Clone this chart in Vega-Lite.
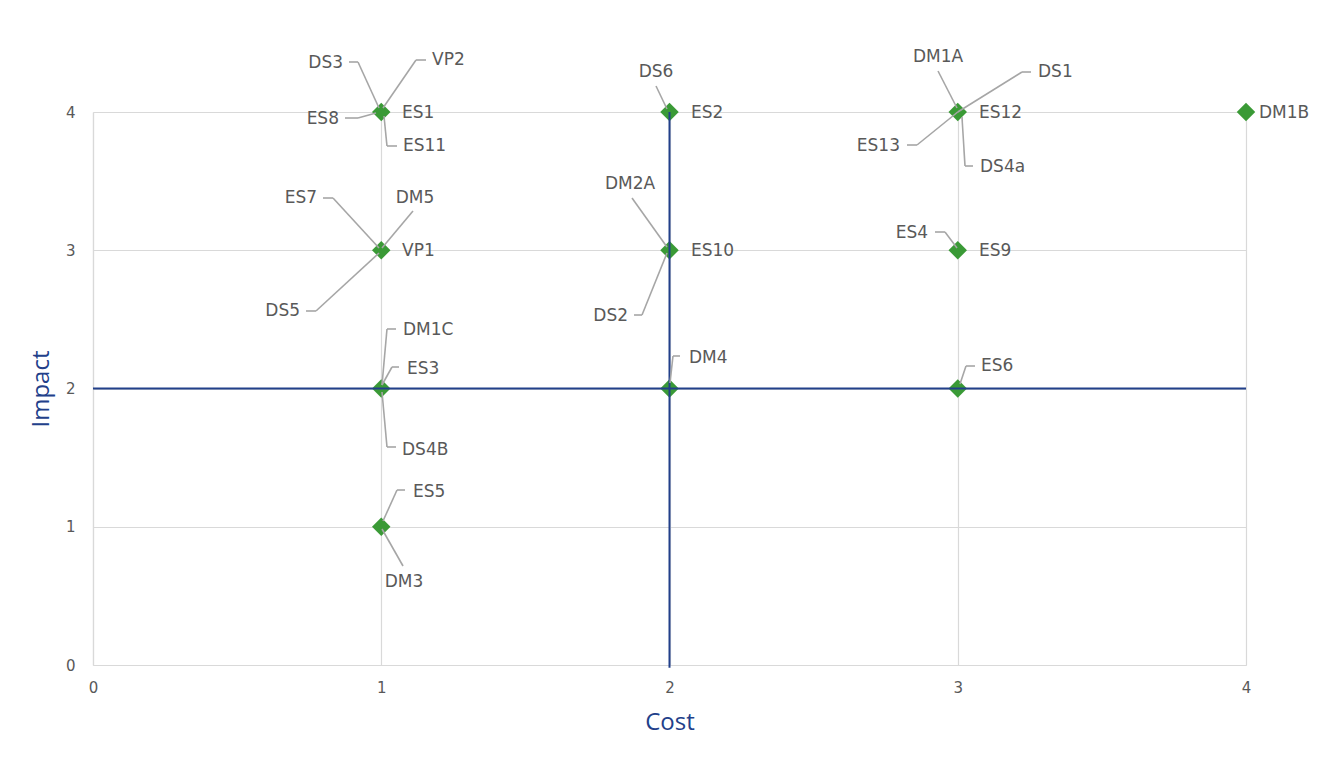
{
  "$schema": "https://vega.github.io/schema/vega-lite/v6.json",
  "width": 1153,
  "height": 553,
  "autosize": {"type": "none"},
  "padding": {"left": 93, "top": 112, "right": 75, "bottom": 104},
  "background": "white",
  "config": {
    "view": {"stroke": null},
    "axis": {
      "grid": true,
      "gridColor": "#D9D9D9",
      "gridWidth": 1.2,
      "domainColor": "#D9D9D9",
      "domainWidth": 1.2,
      "ticks": false,
      "labelFlush": false,
      "labelFont": "DejaVu Sans",
      "labelFontSize": 15,
      "labelColor": "#595959",
      "titleFont": "Open Sans",
      "titleFontSize": 24,
      "titleFontWeight": "normal",
      "titleColor": "#22408A"
    }
  },
  "datasets": {
    "points": [
      {"cost": 1, "impact": 4}, {"cost": 2, "impact": 4}, {"cost": 3, "impact": 4}, {"cost": 4, "impact": 4},
      {"cost": 1, "impact": 3}, {"cost": 2, "impact": 3}, {"cost": 3, "impact": 3},
      {"cost": 1, "impact": 2}, {"cost": 2, "impact": 2}, {"cost": 3, "impact": 2},
      {"cost": 1, "impact": 1}
    ],
    "quadrants": [
      {"x1": 0, "x2": 4, "y1": 2, "y2": 2},
      {"x1": 2, "x2": 2, "y1": -0.02, "y2": 4}
    ],
    "labels": [
      {"label": "DS3", "lx": 0.8673, "ly": 4.3544, "side": "right"},
      {"label": "VP2", "lx": 1.1761, "ly": 4.3761, "side": "left"},
      {"label": "ES8", "lx": 0.8534, "ly": 3.9494, "side": "right"},
      {"label": "ES1", "lx": 1.0720, "ly": 3.9928, "side": "left"},
      {"label": "ES11", "lx": 1.0755, "ly": 3.7541, "side": "left"},
      {"label": "DS6", "lx": 1.9532, "ly": 4.2893, "side": "center"},
      {"label": "ES2", "lx": 2.0746, "ly": 3.9928, "side": "left"},
      {"label": "DM1A", "lx": 2.9315, "ly": 4.3978, "side": "center"},
      {"label": "DS1", "lx": 3.2784, "ly": 4.2893, "side": "left"},
      {"label": "ES13", "lx": 2.7997, "ly": 3.7541, "side": "right"},
      {"label": "ES12", "lx": 3.0738, "ly": 3.9928, "side": "left"},
      {"label": "DS4a", "lx": 3.0772, "ly": 3.6022, "side": "left"},
      {"label": "DM1B", "lx": 4.0451, "ly": 3.9928, "side": "left"},
      {"label": "ES7", "lx": 0.7771, "ly": 3.3779, "side": "right"},
      {"label": "DM5", "lx": 1.1171, "ly": 3.3779, "side": "center"},
      {"label": "DS5", "lx": 0.7181, "ly": 2.5606, "side": "right"},
      {"label": "VP1", "lx": 1.0720, "ly": 2.9946, "side": "left"},
      {"label": "DM2A", "lx": 1.8630, "ly": 3.4792, "side": "center"},
      {"label": "DS2", "lx": 1.8560, "ly": 2.5244, "side": "right"},
      {"label": "ES10", "lx": 2.0746, "ly": 2.9946, "side": "left"},
      {"label": "ES4", "lx": 2.8968, "ly": 3.1248, "side": "right"},
      {"label": "ES9", "lx": 3.0738, "ly": 2.9946, "side": "left"},
      {"label": "DM1C", "lx": 1.0755, "ly": 2.4231, "side": "left"},
      {"label": "ES3", "lx": 1.0893, "ly": 2.1410, "side": "left"},
      {"label": "DS4B", "lx": 1.0720, "ly": 1.5552, "side": "left"},
      {"label": "DM4", "lx": 2.0677, "ly": 2.2206, "side": "left"},
      {"label": "ES6", "lx": 3.0807, "ly": 2.1627, "side": "left"},
      {"label": "ES5", "lx": 1.1101, "ly": 1.2514, "side": "left"},
      {"label": "DM3", "lx": 1.0789, "ly": 0.6004, "side": "center"}
    ],
    "leaders": [
      {"label": "DS3", "x1": 0.8881, "y1": 4.3617, "x2": 0.9193, "y2": 4.3617},
      {"label": "DS3", "x1": 0.9193, "y1": 4.3617, "x2": 0.9922, "y2": 4.0289},
      {"label": "VP2", "x1": 1.1553, "y1": 4.3761, "x2": 1.1206, "y2": 4.3761},
      {"label": "VP2", "x1": 1.1206, "y1": 4.3761, "x2": 1.0061, "y2": 4.0289},
      {"label": "ES8", "x1": 0.8742, "y1": 3.9566, "x2": 0.9193, "y2": 3.9566},
      {"label": "ES8", "x1": 0.9193, "y1": 3.9566, "x2": 0.9818, "y2": 3.9928},
      {"label": "ES11", "x1": 1.0547, "y1": 3.7541, "x2": 1.0199, "y2": 3.7541},
      {"label": "ES11", "x1": 1.0199, "y1": 3.7541, "x2": 1.0095, "y2": 3.9711},
      {"label": "DS6", "x1": 1.9532, "y1": 4.1881, "x2": 1.9913, "y2": 4.0217},
      {"label": "DM1A", "x1": 2.9315, "y1": 4.2966, "x2": 2.9974, "y2": 4.0289},
      {"label": "DS1", "x1": 3.2541, "y1": 4.2893, "x2": 3.2229, "y2": 4.2893},
      {"label": "DS1", "x1": 3.2229, "y1": 4.2893, "x2": 3.0, "y2": 4.0},
      {"label": "ES13", "x1": 2.8239, "y1": 3.7613, "x2": 2.8586, "y2": 3.7613},
      {"label": "ES13", "x1": 2.8586, "y1": 3.7613, "x2": 3.0, "y2": 4.0},
      {"label": "DS4a", "x1": 3.0529, "y1": 3.6094, "x2": 3.0252, "y2": 3.6094},
      {"label": "DS4a", "x1": 3.0252, "y1": 3.6094, "x2": 3.0147, "y2": 3.9638},
      {"label": "ES7", "x1": 0.7979, "y1": 3.3779, "x2": 0.8326, "y2": 3.3779},
      {"label": "ES7", "x1": 0.8326, "y1": 3.3779, "x2": 0.9922, "y2": 3.0163},
      {"label": "DM5", "x1": 1.1101, "y1": 3.2839, "x2": 1.0026, "y2": 3.0163},
      {"label": "DS5", "x1": 0.7390, "y1": 2.5606, "x2": 0.7736, "y2": 2.5606},
      {"label": "DS5", "x1": 0.7736, "y1": 2.5606, "x2": 0.9922, "y2": 2.9801},
      {"label": "DM2A", "x1": 1.8699, "y1": 3.3779, "x2": 1.9913, "y2": 3.0235},
      {"label": "DS2", "x1": 1.8769, "y1": 2.5316, "x2": 1.9046, "y2": 2.5316},
      {"label": "DS2", "x1": 1.9046, "y1": 2.5316, "x2": 1.9913, "y2": 2.9801},
      {"label": "ES4", "x1": 2.9211, "y1": 3.1320, "x2": 2.9558, "y2": 3.1320},
      {"label": "ES4", "x1": 2.9558, "y1": 3.1320, "x2": 2.9974, "y2": 3.0163},
      {"label": "DM1C", "x1": 1.0512, "y1": 2.4304, "x2": 1.0199, "y2": 2.4304},
      {"label": "DM1C", "x1": 1.0199, "y1": 2.4304, "x2": 1.0026, "y2": 2.0253},
      {"label": "ES3", "x1": 1.0616, "y1": 2.1555, "x2": 1.0373, "y2": 2.1555},
      {"label": "ES3", "x1": 1.0373, "y1": 2.1555, "x2": 1.0026, "y2": 2.0253},
      {"label": "DS4B", "x1": 1.0512, "y1": 1.5769, "x2": 1.0199, "y2": 1.5769},
      {"label": "DS4B", "x1": 1.0199, "y1": 1.5769, "x2": 1.0026, "y2": 1.9747},
      {"label": "DM4", "x1": 2.0364, "y1": 2.2351, "x2": 2.0121, "y2": 2.2351},
      {"label": "DM4", "x1": 2.0121, "y1": 2.2351, "x2": 2.0017, "y2": 2.0398},
      {"label": "ES6", "x1": 3.0598, "y1": 2.1627, "x2": 3.0286, "y2": 2.1627},
      {"label": "ES6", "x1": 3.0286, "y1": 2.1627, "x2": 3.0078, "y2": 2.0325},
      {"label": "ES5", "x1": 1.0824, "y1": 1.2658, "x2": 1.0547, "y2": 1.2658},
      {"label": "ES5", "x1": 1.0547, "y1": 1.2658, "x2": 1.0061, "y2": 1.0416},
      {"label": "DM3", "x1": 1.0755, "y1": 0.7161, "x2": 1.0026, "y2": 0.9837}
    ]
  },
  "layer": [
    {
      "data": {"name": "points"},
      "mark": {"type": "point", "shape": "diamond", "filled": true, "size": 340, "color": "#3A9A36", "opacity": 1},
      "encoding": {
        "x": {"field": "cost", "type": "quantitative", "scale": {"domain": [0, 4], "nice": false},
              "axis": {"values": [0, 1, 2, 3, 4], "title": "Cost", "labelPadding": 15, "titlePadding": 15, "format": "d"}},
        "y": {"field": "impact", "type": "quantitative", "scale": {"domain": [0, 4], "nice": false},
              "axis": {"values": [0, 1, 2, 3, 4], "title": "Impact", "labelPadding": 18, "titlePadding": 12, "format": "d"}}
      }
    },
    {
      "data": {"name": "quadrants"},
      "mark": {"type": "rule", "color": "#22408A", "strokeWidth": 2, "clip": false},
      "encoding": {
        "x": {"field": "x1", "type": "quantitative"},
        "x2": {"field": "x2"},
        "y": {"field": "y1", "type": "quantitative"},
        "y2": {"field": "y2"}
      }
    },
    {
      "data": {"name": "leaders"},
      "mark": {"type": "rule", "color": "#A6A6A6", "strokeWidth": 1.6},
      "encoding": {
        "x": {"field": "x1", "type": "quantitative"},
        "x2": {"field": "x2"},
        "y": {"field": "y1", "type": "quantitative"},
        "y2": {"field": "y2"}
      }
    },
    {
      "data": {"name": "labels"},
      "transform": [{"filter": "datum.side === 'left'"}],
      "mark": {"type": "text", "align": "left", "baseline": "middle", "font": "DejaVu Sans", "fontSize": 17, "color": "#595959"},
      "encoding": {
        "x": {"field": "lx", "type": "quantitative"},
        "y": {"field": "ly", "type": "quantitative"},
        "text": {"field": "label"}
      }
    },
    {
      "data": {"name": "labels"},
      "transform": [{"filter": "datum.side === 'right'"}],
      "mark": {"type": "text", "align": "right", "baseline": "middle", "font": "DejaVu Sans", "fontSize": 17, "color": "#595959"},
      "encoding": {
        "x": {"field": "lx", "type": "quantitative"},
        "y": {"field": "ly", "type": "quantitative"},
        "text": {"field": "label"}
      }
    },
    {
      "data": {"name": "labels"},
      "transform": [{"filter": "datum.side === 'center'"}],
      "mark": {"type": "text", "align": "center", "baseline": "middle", "font": "DejaVu Sans", "fontSize": 17, "color": "#595959"},
      "encoding": {
        "x": {"field": "lx", "type": "quantitative"},
        "y": {"field": "ly", "type": "quantitative"},
        "text": {"field": "label"}
      }
    }
  ]
}
